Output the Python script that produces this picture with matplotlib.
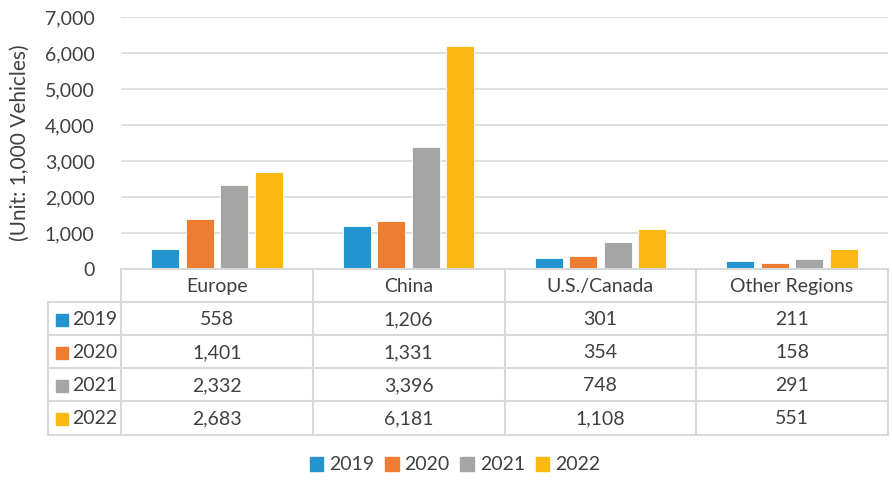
import matplotlib.pyplot as plt
import numpy as np

# Data
regions = ['Europe', 'China', 'U.S./Canada', 'Other Regions']
years = ['2019', '2020', '2021', '2022']
v2019 = [558, 1206, 301, 211]
v2020 = [1401, 1331, 354, 158]
v2021 = [2332, 3396, 748, 291]
v2022 = [2683, 6181, 1108, 551]
yticks = [0, 1000, 2000, 3000, 4000, 5000, 6000, 7000]

series = [v2019, v2020, v2021, v2022]
colors = ['#2494CF', '#ED7D31', '#A5A5A5', '#FAB813']
text_col = '#404040'
line_col = '#D9D9D9'
plt.rcParams['font.family'] = ['Lato', 'DejaVu Sans']
fs = 14

W, H = 892, 480
fig = plt.figure(figsize=(W / 100, H / 100), dpi=100)

# plot area in pixels
left, right, top, bottom = 121, 888, 17, 269
ax = fig.add_axes([left / W, 1 - bottom / H, (right - left) / W, (bottom - top) / H])

x = np.arange(len(regions))
width = 0.145
step = 0.18
for i, (vals, c) in enumerate(zip(series, colors)):
    ax.bar(x + (i - 1.5) * step, vals, width, color=c, zorder=3,
           edgecolor='white', linewidth=0.6)

ax.set_xlim(-0.5, len(regions) - 0.5)
ax.set_ylim(0, 7000)
ax.set_yticks(yticks)
ax.set_yticklabels([f'{t:,}' for t in yticks], fontsize=fs, color=text_col)
ax.tick_params(axis='y', length=0, pad=19)
ax.set_xticks([])
ax.grid(axis='y', color=line_col, linewidth=1.2, zorder=0)
for s in ax.spines.values():
    s.set_visible(False)
ax.set_ylabel('(Unit: 1,000 Vehicles)', fontsize=15, color=text_col, labelpad=11)

# data table below the plot, drawn in pixel coordinates
tab_left = 48
tax = fig.add_axes([0, 0, 1, 1])
tax.set_xlim(0, W)
tax.set_ylim(H, 0)
tax.axis('off')

col_w = (right - left) / len(regions)
row_edges = [269, 302, 335, 368, 401, 435]
col_edges = [left + k * col_w for k in range(len(regions) + 1)]

# horizontal lines
tax.plot([left, right], [row_edges[0], row_edges[0]], color=line_col, lw=1.5)
for r in row_edges[1:]:
    tax.plot([tab_left, right], [r, r], color=line_col, lw=1.5)
# vertical lines
tax.plot([tab_left, tab_left], [row_edges[1], row_edges[-1]], color=line_col, lw=1.5)
for c in col_edges:
    tax.plot([c, c], [row_edges[0], row_edges[-1]], color=line_col, lw=1.5)

for j, name in enumerate(regions):
    tax.text(left + (j + 0.5) * col_w, (row_edges[0] + row_edges[1]) / 2 + 1, name,
             ha='center', va='center', fontsize=fs, color=text_col)

for i, (yr, vals, c) in enumerate(zip(years, series, colors)):
    yc = (row_edges[i + 1] + row_edges[i + 2]) / 2 + 1
    tax.add_patch(plt.Rectangle((56, yc - 6), 12, 12, color=c))
    tax.text(72, yc, yr, ha='left', va='center', fontsize=fs, color=text_col)
    for j, v in enumerate(vals):
        tax.text(left + (j + 0.5) * col_w, yc, f'{v:,}', ha='center', va='center',
                 fontsize=fs, color=text_col)

# legend
handles = [plt.Rectangle((0, 0), 1, 1, color=c) for c in colors]
fig.legend(handles, years, loc='center', bbox_to_anchor=(455 / W, 1 - 465 / H),
           ncol=4, frameon=False, fontsize=fs, handlelength=0.7, handleheight=0.7,
           handletextpad=0.3, columnspacing=0.55, labelcolor=text_col)

fig.savefig('out.png', dpi=100)
